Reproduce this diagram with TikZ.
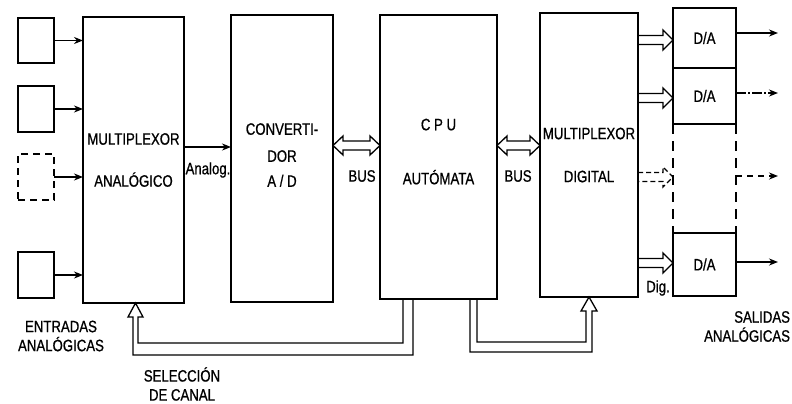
\documentclass[tikz,border=0pt]{standalone}
\usepackage{fontspec}
\newfontfamily\labfont[FakeStretch=0.8,FakeBold=0.8]{Liberation Sans}
\usetikzlibrary{arrows.meta,calc}
\begin{document}
\begin{tikzpicture}[x=1pt,y=-1pt,
  line width=1.6pt,
  every node/.style={font=\labfont\fontsize{16.5}{19}\selectfont, inner sep=0pt, outer sep=0pt},
  blk/.style={draw, anchor=north west, align=center},
  sig/.style={-{Stealth[length=9pt,width=7pt]}},
  hollow/.style={line width=1.3pt, line join=miter},
  lbl/.style={align=center},
]
\useasboundingbox[fill=white] (0,0) rectangle (792,404);

% input boxes
\node[blk, minimum width=36, minimum height=45] (in1) at (18,18) {};
\node[blk, minimum width=36, minimum height=46] (in2) at (18,86) {};
\node[blk, minimum width=36, minimum height=46, dash pattern=on 7pt off 5pt] (in3) at (18,154) {};
\node[blk, minimum width=36, minimum height=46] (in4) at (18,252) {};

% main blocks
\node[blk, minimum width=101, minimum height=286] (muxa) at (83,17) {MULTIPLEXOR\\[23pt]ANALÓGICO};
\node[blk, minimum width=102, minimum height=287] (conv) at (231,15) {CONVERTI-\\[8pt]DOR\\[6pt]A / D\\[-12pt]{}};
\node[blk, minimum width=117, minimum height=284] (cpu) at (380,15) {C P U\\[35pt]AUTÓMATA\\[-8pt]{}};
\node[blk, minimum width=98, minimum height=284] (muxd) at (540,13) {MULTIPLEXOR\\[24pt]DIGITAL};

% D/A column
\node[blk, minimum width=63, minimum height=60] (da1) at (673,8) {D/A};
\node[blk, minimum width=63, minimum height=56] (da2) at (673,68) {D/A};
\node[blk, minimum width=63, minimum height=63] (da3) at (673,233) {D/A};
\draw[dash pattern=on 10pt off 7pt] (da2.south west) -- (da3.north west);
\draw[dash pattern=on 10pt off 7pt] (da2.south east) -- (da3.north east);

% input arrows
\draw[sig] (in1.east) -- (in1.east -| muxa.west);
\draw[sig] (in2.east) -- (in2.east -| muxa.west);
\draw[sig] (in3.east) -- (in3.east -| muxa.west);
\draw[sig] (in4.east) -- (in4.east -| muxa.west);

% analog arrow
\coordinate (yA) at (0,147);
\draw[sig] (muxa.east |- yA) -- (conv.west |- yA);
\node at (208,170) {Analog.};

% bus arrows
\coordinate (yB) at (0,145.5);
\coordinate (b1l) at (conv.east |- yB);
\coordinate (b1r) at (cpu.west |- yB);
\draw[hollow] (b1l) -- ++(10,-9.5) -- ++(0,5) -- ($(b1r)+(-10,-4.5)$) -- ++(0,-5) -- (b1r)
  -- ++(-10,9.5) -- ++(0,-5) -- ($(b1l)+(10,4.5)$) -- ++(0,5) -- cycle;
\node at (362,176) {BUS};
\coordinate (b2l) at (cpu.east |- yB);
\coordinate (b2r) at (muxd.west |- yB);
\draw[hollow] (b2l) -- ++(10,-9.5) -- ++(0,5) -- ($(b2r)+(-10,-4.5)$) -- ++(0,-5) -- (b2r)
  -- ++(-10,9.5) -- ++(0,-5) -- ($(b2l)+(10,4.5)$) -- ++(0,5) -- cycle;
\node at (518,176) {BUS};

% hollow arrows to D/A
\coordinate (h1) at (0,40);
\coordinate (h2) at (0,98);
\coordinate (h3) at (0,177);
\coordinate (h4) at (0,263);
\draw[hollow] (muxd.east |- h1) ++(0,-4.5) -- ($(da1.west |- h1)+(-10,-4.5)$) -- ++(0,-5.5)
  -- (da1.west |- h1) -- ++(-10,10) -- ++(0,-5.5) -- ($(muxd.east |- h1)+(0,4.5)$);
\draw[hollow] (muxd.east |- h2) ++(0,-4.5) -- ($(da2.west |- h2)+(-10,-4.5)$) -- ++(0,-5.5)
  -- (da2.west |- h2) -- ++(-10,10) -- ++(0,-5.5) -- ($(muxd.east |- h2)+(0,4.5)$);
\draw[hollow, dash pattern=on 5pt off 3pt] (muxd.east |- h3) ++(0,-4.5) -- ($(da2.west |- h3)+(-10,-4.5)$) -- ++(0,-5.5)
  -- (da2.west |- h3) -- ++(-10,10) -- ++(0,-5.5) -- ($(muxd.east |- h3)+(0,4.5)$);
\draw[hollow] (muxd.east |- h4) ++(0,-4.5) -- ($(da3.west |- h4)+(-10,-4.5)$) -- ++(0,-5.5)
  -- (da3.west |- h4) -- ++(-10,10) -- ++(0,-5.5) -- ($(muxd.east |- h4)+(0,4.5)$);
\node at (658,288) {Dig.};

% output arrows
\coordinate (o1) at (778,33);
\coordinate (o2) at (778,93);
\coordinate (o3) at (778,176);
\coordinate (o4) at (778,262);
\draw[sig] (da1.east |- o1) -- (o1);
\draw[sig, dash pattern=on 10pt off 2pt on 2pt off 2pt] (da2.east |- o2) -- (o2);
\draw[sig, dash pattern=on 6pt off 5pt] (da2.east |- o3) -- (o3);
\draw[sig] (da3.east |- o4) -- (o4);

% channel selection (CPU -> analog multiplexor)
\draw[hollow] ($(cpu.south west)+(33,0)$) |- ($(muxa.south)+(-0.5,52)$) -- ++(0,-38) -- ++(-5,0)
  -- ($(muxa.south)+(2,0)$) -- ++(7.5,14) -- ++(-5,0) |- ($(cpu.south west)+(23,44)$)
  -- ($(cpu.south west)+(23,0)$);
% CPU -> digital multiplexor
\draw[hollow] ($(cpu.south west)+(90,0)$) |- ($(muxd.south)+(3,55)$) -- ++(0,-41) -- ++(5,0)
  -- (muxd.south) -- ++(-8,14) -- ++(5,0) |- ($(cpu.south west)+(97,43)$)
  -- ($(cpu.south west)+(97,0)$);

% labels
\node[lbl] (ent) at (61,336) {ENTRADAS\\ANALÓGICAS};
\node[lbl] (sel) at (182,384) {SELECCIÓN\\DE CANAL};
\node[align=right, anchor=east] (sal) at (790,326.5) {SALIDAS\\ANALÓGICAS};
\end{tikzpicture}
\end{document}
